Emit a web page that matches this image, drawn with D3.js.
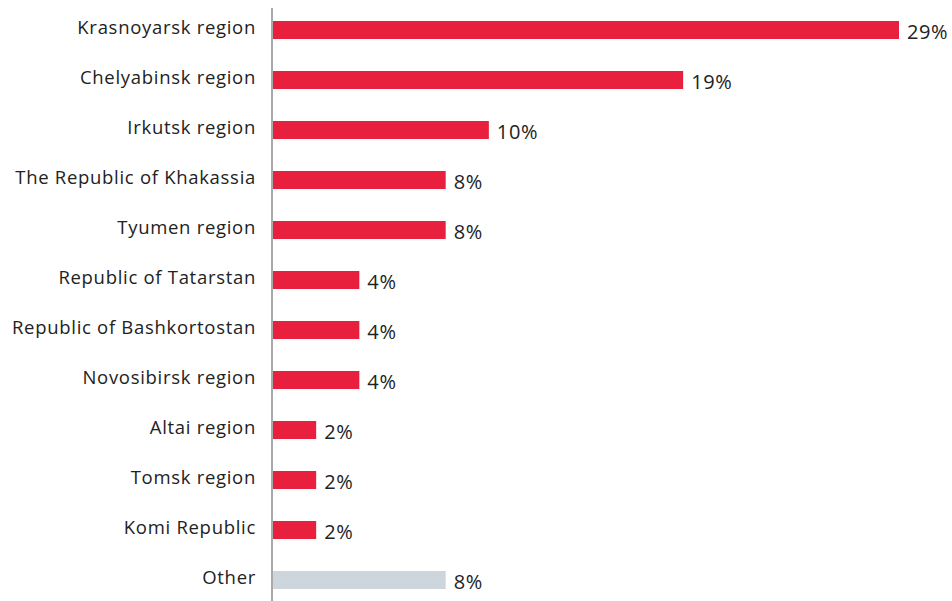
<!DOCTYPE html>
<html>
<head>
<meta charset="utf-8">
<script src="https://cdn.jsdelivr.net/npm/d3@7"></script>
<style>
  html, body { margin: 0; padding: 0; background: #fff; }
  svg { display: block; }
  text { font-family: "Open Sans", "Noto Sans", sans-serif; fill: #222; }
</style>
</head>
<body>
<svg id="chart" width="952" height="601"></svg>
<script>
// Share of total by region, percent
const regions = [
  "Krasnoyarsk region",
  "Chelyabinsk region",
  "Irkutsk region",
  "The Republic of Khakassia",
  "Tyumen region",
  "Republic of Tatarstan",
  "Republic of Bashkortostan",
  "Novosibirsk region",
  "Altai region",
  "Tomsk region",
  "Komi Republic",
  "Other"
];
const shares = [29, 19, 10, 8, 8, 4, 4, 4, 2, 2, 2, 8];
const otherLabel = "Other";

const data = regions.map((r, i) => ({ region: r, value: shares[i] }));

const svg = d3.select("#chart");
const x0 = 273;

const x = d3.scaleLinear().domain([0, 29]).range([x0, 899]);
const y = d3.scaleBand()
  .domain(regions)
  .range([5, 605])
  .paddingInner(0.64)
  .paddingOuter(0.32);

// Bars
svg.append("g")
  .selectAll("rect")
  .data(data)
  .join("rect")
  .attr("x", x(0))
  .attr("y", d => y(d.region))
  .attr("width", d => x(d.value) - x(0))
  .attr("height", y.bandwidth())
  .attr("fill", d => d.region === otherLabel ? "#cdd6dc" : "#e8203d");

// Value labels
svg.append("g")
  .selectAll("text")
  .data(data)
  .join("text")
  .attr("x", d => x(d.value) + 8)
  .attr("y", d => y(d.region) + y.bandwidth() / 2 + 8.5)
  .attr("font-size", 20)
  .attr("letter-spacing", 0.6)
  .text(d => d.value + "%");

// Category axis
const axis = d3.axisLeft(y).tickSize(0).tickPadding(17);
const gAxis = svg.append("g")
  .attr("transform", `translate(${x0},0)`)
  .call(axis);
gAxis.select(".domain").remove();
gAxis.selectAll(".tick text")
  .attr("font-size", 18.5)
  .attr("letter-spacing", 0.7)
  .attr("dy", "0.2em")
  .style("font-family", "\"Open Sans\", \"Noto Sans\", sans-serif")
  .style("fill", "#222");

// Vertical baseline
svg.append("line")
  .attr("x1", 272).attr("x2", 272)
  .attr("y1", 8).attr("y2", 601)
  .attr("stroke", "#a9a9a9")
  .attr("stroke-width", 2);
</script>
</body>
</html>
